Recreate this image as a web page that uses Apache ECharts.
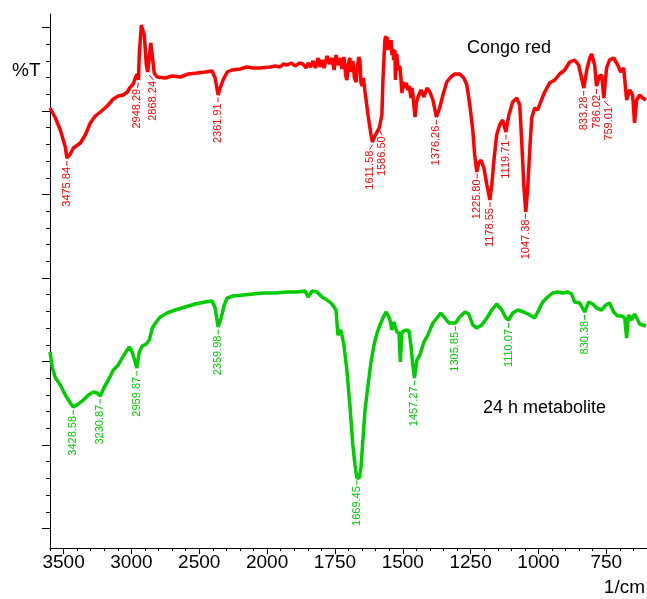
<!DOCTYPE html>
<html>
<head>
<meta charset="utf-8">
<script src="https://cdn.jsdelivr.net/npm/echarts@6/dist/echarts.min.js"></script>
<style>html,body{margin:0;padding:0;background:#fff}#box{width:647px;height:599px}</style>
</head>
<body>
<div id="box"></div>
<script>
// Congo red 光谱: 波数 (1/cm) 和 %T (相对值)
let redWn = [3600,3560,3524,3487,3476,3450,3428,3376,3340,3303,
    3266,3229,3178,3133,3097,3060,3030,3008,2986,2972,
    2957,2948,2942,2927,2916,2905,2890,2880,2868,2857,
    2843,2832,2810,2751,2700,2640,2580,2515,2456,2405,
    2383,2361,2346,2324,2294,2258,2199,2150,2103,2052,
    1989,1970,1952,1940,1926,1910,1897,1880,1868,1856,
    1849,1840,1831,1822,1812,1805,1798,1790,1779,1770,
    1761,1753,1746,1738,1731,1724,1717,1710,1706,1700,
    1695,1690,1684,1678,1672,1668,1662,1658,1654,1650,
    1645,1639,1628,1617,1612,1603,1595,1587,1577,1573,
    1566,1563,1560,1557,1555,1551,1547,1543,1540,1536,
    1533,1529,1527,1524,1522,1517,1511,1507,1503,1498,
    1492,1487,1481,1476,1470,1466,1463,1455,1450,1444,
    1433,1422,1411,1400,1389,1376,1364,1352,1338,1323,
    1308,1290,1275,1264,1253,1242,1235,1227,1220,1212,
    1201,1190,1179,1172,1164,1154,1143,1132,1120,1109,
    1095,1080,1069,1062,1054,1047,1040,1032,1025,1014,
    1003,992,977,959,940,922,903,885,867,852,
    833,822,811,804,793,786,775,767,759,749,
    738,723,708,697,686,675,664,653,646,638,
    627,616,604];
let redT = [440,430,418,401,390,394,400,405,413,425,
    432,436,442,449,452,453,456,461,464,470,
    474,468,493,523,525,513,483,476,476,505,
    504,475,471,470,472,471,474,475,476,477,
    470,453,460,468,476,478,479,481,480,480,
    481,482,481,484,483,485,482,485,484,480,
    485,481,487,480,490,481,488,480,492,484,
    490,478,493,483,490,479,491,472,468,485,
    490,476,487,470,466,480,491,488,465,462,
    470,456,433,413,406,412,416,420,433,468,
    508,512,505,511,498,506,500,508,493,499,
    488,498,468,490,494,478,482,470,455,466,
    460,465,458,462,450,460,454,431,445,451,
    458,451,460,456,448,431,440,453,466,471,
    474,474,470,463,443,418,393,376,385,388,
    380,363,348,363,388,413,423,428,416,433,
    446,450,443,408,363,336,358,398,430,440,
    438,446,456,465,468,474,478,486,488,483,
    460,478,490,494,483,462,472,473,450,480,
    488,490,483,476,480,448,458,453,425,448,
    453,450,448];

// 24 h 代谢产物
let greenWn = [3600,3582,3560,3524,3487,3450,3428,3391,3354,3317,3281,3251,3229,3200,3170,3133,3097,3060,3016,2994,
    2972,2960,2942,2920,2891,2868,2846,2817,2788,2736,2677,2604,2530,2456,2405,2383,2361,2339,2316,2294,
    2250,2177,2103,2029,1971,1926,1890,1860,1849,1834,1816,1798,1779,1761,1746,1739,1728,1717,1706,1695,
    1684,1676,1669,1661,1654,1647,1639,1628,1617,1606,1595,1584,1573,1562,1555,1547,1540,1533,1522,1514,
    1509,1503,1488,1477,1470,1463,1457,1448,1437,1422,1408,1389,1374,1360,1345,1330,1306,1290,1271,1257,
    1242,1227,1209,1190,1172,1154,1135,1120,1110,1095,1076,1054,1032,1014,999,984,966,948,929,911,
    892,878,867,848,830,815,800,786,767,752,738,723,708,693,682,675,668,657,646,638,
    627,616,604];
let greenT = [196,180,170,163,153,145,141,144,148,153,156,155,152,161,168,178,183,192,201,196,
    186,180,196,202,204,208,220,226,231,235,238,241,244,246,247,240,221,230,243,250,
    252,253,254,255,255,256,256,257,251,257,256,251,248,244,238,213,218,203,178,143,
    103,83,70,70,80,108,138,163,186,203,215,223,230,236,233,228,218,226,216,215,
    186,216,218,217,203,183,170,188,193,206,213,225,230,235,230,225,225,231,236,234,
    223,220,223,230,238,244,238,230,228,235,238,236,233,230,238,246,251,255,256,255,
    256,254,246,245,236,246,244,240,238,243,245,236,232,232,230,210,233,228,234,230,
    224,223,222];

// 峰标注
let redPeaks = ['3475.84','2948.29','2868.24','2361.91','1611.58','1586.50','1376.26','1225.80',
    '1178.55','1119.71','1047.38','833.28','786.02','759.01'];
let greenPeaks = ['3428.58','3230.87','2959.87','2359.98','1669.45','1457.27','1305.85','1110.07','830.38'];

// 刻度标签
let xTickLabels = [3500, 3000, 2500, 2000, 1750, 1500, 1250, 1000, 750];

// 标注横向偏移 (避免重叠)
let peakShift = {'1611.58': -3, '1586.50': 3, '2868.24': 4, '759.01': 5, '2948.29': -1};

// 2000 以上压缩一半
function toAxis(wn) { return wn > 2000 ? 2000 + (wn - 2000) / 2 : wn; }
function fromAxis(t) { return t > 2000 ? 2000 + (t - 2000) * 2 : t; }

function heightAt(wns, ts, w) {
    for (let i = 0; i < wns.length - 1; i++) {
        if (wns[i] >= w && wns[i + 1] <= w) {
            let f = (wns[i] - w) / (wns[i] - wns[i + 1]);
            return ts[i] + (ts[i + 1] - ts[i]) * f;
        }
    }
    return ts[ts.length - 1];
}

function lineData(wns, ts) {
    return wns.map(function (w, i) { return [toAxis(w), ts[i]]; });
}

function peakSeries(peaks, wns, ts, color) {
    let data = peaks.map(function (p) {
        let w = parseFloat(p);
        return [toAxis(w), heightAt(wns, ts, w)];
    });
    return {
        type: 'custom',
        silent: true,
        clip: false,
        z: 5,
        data: data,
        renderItem: function (params, api) {
            let pt = api.coord([api.value(0), api.value(1)]);
            let txt = peaks[params.dataIndex];
            let dx = peakShift[txt] || 0;
            return {
                type: 'group',
                children: [{
                    type: 'line',
                    shape: {x1: pt[0], y1: pt[1] + 3, x2: pt[0] + dx, y2: pt[1] + 8},
                    style: {stroke: color, lineWidth: 1}
                }, {
                    type: 'text',
                    x: pt[0] + dx,
                    y: pt[1] + 9,
                    rotation: Math.PI / 2,
                    style: {
                        text: txt,
                        fill: color,
                        font: '11px "Liberation Sans", Arial, sans-serif',
                        align: 'right',
                        verticalAlign: 'middle'
                    }
                }]
            };
        }
    };
}

let minorX = [];
for (let t = 650; t <= 2800; t += 50) minorX.push(t);
let majorX = xTickLabels.map(toAxis);

let minorY = [];
let majorY = [];
for (let k = 0; k <= 30; k++) {
    let v = 19.5 + k * 16.7;
    minorY.push(v);
    if (k % 5 === 0) majorY.push(v);
}

let font = '"Liberation Sans", Arial, sans-serif';

let chart = echarts.init(document.getElementById('box'));

let option = {
    animation: false,
    backgroundColor: '#fff',
    grid: {left: 50, right: 0, top: 14, bottom: 51},
    xAxis: [{
        type: 'value',
        position: 'bottom',
        inverse: true,
        min: 600,
        max: 2800,
        axisLine: {show: true, onZero: false, lineStyle: {color: '#000', width: 1}},
        axisTick: {show: true, length: 3, customValues: minorX, lineStyle: {color: '#000'}},
        axisLabel: {
            show: true,
            customValues: majorX,
            formatter: function (v) { return String(fromAxis(v)); },
            color: '#000',
            fontSize: 19,
            fontFamily: font,
            margin: 5
        },
        splitLine: {show: false}
    }, {
        type: 'value',
        position: 'bottom',
        inverse: true,
        min: 600,
        max: 2800,
        axisLine: {show: false, onZero: false},
        axisTick: {show: true, length: 6, customValues: majorX, lineStyle: {color: '#000'}},
        axisLabel: {show: false},
        splitLine: {show: false}
    }],
    yAxis: [{
        type: 'value',
        position: 'left',
        min: 0,
        max: 534,
        axisLine: {show: true, onZero: false, lineStyle: {color: '#000', width: 1}},
        axisTick: {show: true, length: 4, customValues: minorY, lineStyle: {color: '#000'}},
        axisLabel: {show: false},
        splitLine: {show: false}
    }, {
        type: 'value',
        position: 'left',
        min: 0,
        max: 534,
        axisLine: {show: false, onZero: false},
        axisTick: {show: true, length: 8, customValues: majorY, lineStyle: {color: '#000'}},
        axisLabel: {show: false},
        splitLine: {show: false}
    }],
    graphic: [
        {type: 'text', x: 12, y: 71, style: {text: '%T', font: '19px ' + font, fill: '#000', verticalAlign: 'middle'}},
        {type: 'text', x: 645, y: 588, style: {text: '1/cm', font: '19px ' + font, fill: '#000', align: 'right', verticalAlign: 'middle'}},
        {type: 'text', x: 467, y: 48, style: {text: 'Congo red', font: '18px ' + font, fill: '#000', verticalAlign: 'middle'}},
        {type: 'text', x: 483, y: 408, style: {text: '24 h metabolite', font: '18px ' + font, fill: '#000', verticalAlign: 'middle'}}
    ],
    series: [{
        name: 'Congo red',
        type: 'line',
        showSymbol: false,
        data: lineData(redWn, redT),
        lineStyle: {color: '#ff0000', width: 3.5},
        itemStyle: {color: '#ff0000'}
    }, {
        name: '24 h metabolite',
        type: 'line',
        showSymbol: false,
        data: lineData(greenWn, greenT),
        lineStyle: {color: '#00cc00', width: 3.5},
        itemStyle: {color: '#00cc00'}
    },
        peakSeries(redPeaks, redWn, redT, '#ff0000'),
        peakSeries(greenPeaks, greenWn, greenT, '#00cc00')
    ]
};

chart.setOption(option);
</script>
</body>
</html>
